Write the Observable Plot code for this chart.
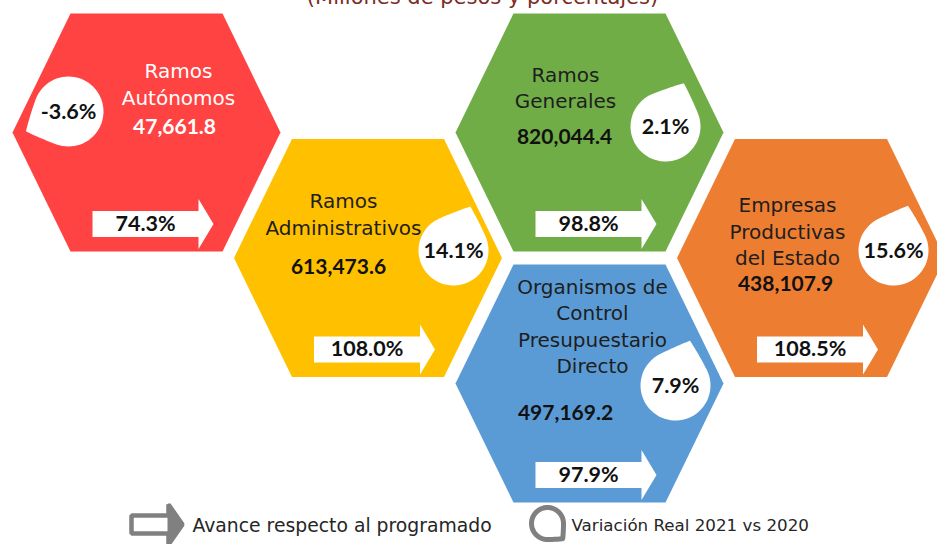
<!DOCTYPE html>
<html>
<head>
<meta charset="utf-8">
<script src="https://cdn.jsdelivr.net/npm/d3@7"></script>
<script src="https://cdn.jsdelivr.net/npm/@observablehq/plot@0.6"></script>
<style>
  html, body { margin: 0; padding: 0; background: #ffffff; overflow: hidden; }
  #chart { width: 937px; height: 544px; overflow: hidden; }
</style>
</head>
<body>
<div id="chart"></div>
<script>
// ---------------- data ----------------
const title = "(Millones de pesos y porcentajes)";
const categories = [
  "Ramos Autónomos",
  "Ramos Generales",
  "Ramos Administrativos",
  "Empresas Productivas del Estado",
  "Organismos de Control Presupuestario Directo"
];
const categoryLabels = [
  "Ramos\nAutónomos",
  "Ramos\nGenerales",
  "Ramos\nAdministrativos",
  "Empresas\nProductivas\ndel Estado",
  "Organismos de\nControl\nPresupuestario\nDirecto"
];
const amounts = [47661.8, 820044.4, 613473.6, 438107.9, 497169.2];      // millones de pesos
const realVariation = [-3.6, 2.1, 14.1, 15.6, 7.9];                    // % real 2021 vs 2020
const progressVsProgrammed = [74.3, 98.8, 108.0, 108.5, 97.9];        // % avance
const legendLabels = ["Avance respecto al programado", "Variación Real 2021 vs 2020"];

// ---------------- styles ----------------
const palette = ["#FF4343", "#70AD47", "#FFC000", "#ED7D31", "#5B9BD5"];
const nameInk = ["#ffffff", "#1e1e1e", "#1e1e1e", "#1e1e1e", "#1e1e1e"];
const valueInk = ["#ffffff", "#111111", "#111111", "#111111", "#111111"];
const legendGray = "#808080";
const titleInk = "#7b2d26";
const nameFont = "DejaVu Sans, sans-serif";
const boldFont = "Lato, 'DejaVu Sans', sans-serif";
const legendSizes = [18.8, 16.7];

// ---------------- layout (honeycomb) ----------------
const hexSlot = [[0, 0], [2, 0], [1, 1], [3, 1], [2, 2]];
const gridOrigin = [146, 132], gridStep = [221.5, 125.5];
const hexHalfW = 134, hexHalfTop = 76, hexHalfH = 119;
const nameOffset = [[32, -49.5], [-24, -46], [-24.5, -45], [-23.5, -28], [3, -58.5]];
const valueOffset = [[28, -5], [-25, 5], [-29.5, 9.5], [-25.5, 26.5], [-24, 30]];
const bubbleOffset = [[-78, -21], [76, -6], [85.5, -7.5], [82.5, -7.5], [86, 2]];
const bubbleTurn = [200, -22, -24, -27, -27];
const bubbleR = 35, bubbleAdj = 0.95;
const arrowDy = 91.5, arrowX0 = -54, arrowX1 = 52, arrowX2 = 67, arrowBody = 13, arrowHead = 25;

const centers = categories.map((c, i) => ({
  x: gridOrigin[0] + hexSlot[i][0] * gridStep[0],
  y: gridOrigin[1] + hexSlot[i][1] * gridStep[1]
}));

// hexagon polygons
const hexCorners = [[-hexHalfW, 0], [-hexHalfTop, -hexHalfH], [hexHalfTop, -hexHalfH],
                    [hexHalfW, 0], [hexHalfTop, hexHalfH], [-hexHalfTop, hexHalfH]];
const hexPts = categories.flatMap((c, i) =>
  hexCorners.map(([u, v]) => ({cat: c, x: centers[i].x + u, y: centers[i].y + v})));

// teardrop outline (Office-style teardrop, tip at -45deg before rotation)
function dropShape(id, cx, cy, r, turnDeg, a) {
  const local = [];
  for (let t = 180; t <= 270; t += 5) local.push([Math.cos(t * Math.PI / 180), Math.sin(t * Math.PI / 180)]);
  const quad = (p0, c, p2) => {
    for (let k = 1; k <= 12; k++) {
      const s = k / 12, m = 1 - s;
      local.push([m * m * p0[0] + 2 * m * s * c[0] + s * s * p2[0], m * m * p0[1] + 2 * m * s * c[1] + s * s * p2[1]]);
    }
  };
  quad([0, -1], [a / 2, -1], [a, -a]);
  quad([a, -a], [1, -a / 2], [1, 0]);
  for (let t = 5; t < 180; t += 5) local.push([Math.cos(t * Math.PI / 180), Math.sin(t * Math.PI / 180)]);
  const f = turnDeg * Math.PI / 180, cf = Math.cos(f), sf = Math.sin(f);
  return local.map(([u, v]) => ({id, x: cx + r * (u * cf - v * sf), y: cy + r * (u * sf + v * cf)}));
}
const bubbleCenters = categories.map((c, i) => ({
  cat: c, x: centers[i].x + bubbleOffset[i][0], y: centers[i].y + bubbleOffset[i][1]
}));
const dropPts = categories.flatMap((c, i) =>
  dropShape(c, bubbleCenters[i].x, bubbleCenters[i].y, bubbleR, bubbleTurn[i], bubbleAdj));

// arrows
function arrowShape(id, x0, x1, x2, y, body, head) {
  return [[x0, y - body], [x1, y - body], [x1, y - head], [x2, y], [x1, y + head], [x1, y + body], [x0, y + body]]
    .map(([x, yy]) => ({id, x, y: yy}));
}
const arrowPts = categories.flatMap((c, i) =>
  arrowShape(c, centers[i].x + arrowX0, centers[i].x + arrowX1, centers[i].x + arrowX2,
             centers[i].y + arrowDy, arrowBody, arrowHead));

// text rows
const fmtAmount = d3.format(",.1f");
const fmtPct = v => v.toFixed(1) + "%";
const rows = categories.map((c, i) => ({
  cat: c,
  label: categoryLabels[i],
  nx: centers[i].x + nameOffset[i][0], ny: centers[i].y + nameOffset[i][1],
  value: fmtAmount(amounts[i]),
  vx: centers[i].x + valueOffset[i][0], vy: centers[i].y + valueOffset[i][1],
  varText: fmtPct(realVariation[i]),
  bx: bubbleCenters[i].x, by: bubbleCenters[i].y + 1,
  progText: fmtPct(progressVsProgrammed[i]),
  ax: centers[i].x + (arrowX0 + arrowX1) / 2, ay: centers[i].y + arrowDy
}));

// legend
const legendY = 524;
const legendArrow = arrowShape("legend", 131, 168, 182, legendY, 9, 20);
const legendHead = [[168, legendY - 20], [182, legendY], [168, legendY + 20]].map(([x, y]) => ({x, y}));
const legendDrop = dropShape("legendDrop", 547, legendY - 1, 16, 90, 0.95);
const legendRows = [
  {x: 192, y: legendY + 1, text: legendLabels[0]},
  {x: 571, y: legendY + 1, text: legendLabels[1]}
];

// ---------------- plot ----------------
const marks = [];
categories.forEach((c, i) => {
  marks.push(Plot.line(hexPts.filter(d => d.cat === c),
    {x: "x", y: "y", fill: palette[i], stroke: "none", curve: "linear-closed"}));
});
marks.push(Plot.line(dropPts, {x: "x", y: "y", z: "id", fill: "white", stroke: "none", curve: "linear-closed"}));
marks.push(Plot.line(arrowPts, {x: "x", y: "y", z: "id", fill: "white", stroke: "none", curve: "linear-closed"}));
rows.forEach((r, i) => {
  marks.push(Plot.text([r], {x: "nx", y: "ny", text: "label", fill: nameInk[i], fontSize: 20,
    fontFamily: nameFont, lineHeight: 1.33, textAnchor: "middle"}));
  marks.push(Plot.text([r], {x: "vx", y: "vy", text: "value", fill: valueInk[i], fontSize: 21,
    fontWeight: "bold", fontFamily: boldFont, textAnchor: "middle"}));
});
marks.push(Plot.text(rows, {x: "bx", y: "by", text: "varText", fill: "#111", fontSize: 21.5,
  fontWeight: "bold", fontFamily: boldFont, textAnchor: "middle"}));
marks.push(Plot.text(rows, {x: "ax", y: "ay", text: "progText", fill: "#111", fontSize: 21.5,
  fontWeight: "bold", fontFamily: boldFont, textAnchor: "middle"}));
// title (cut at top edge as in the source)
marks.push(Plot.text([title], {x: () => 482, y: () => 3.5, text: d => d, fill: titleInk, fontSize: 21,
  fontFamily: nameFont, lineAnchor: "bottom", textAnchor: "middle"}));
// legend
marks.push(Plot.line(legendArrow, {x: "x", y: "y", fill: "white", stroke: legendGray, strokeWidth: 4.5,
  strokeLinejoin: "miter", curve: "linear-closed"}));
marks.push(Plot.line(legendHead, {x: "x", y: "y", fill: legendGray, stroke: legendGray, strokeWidth: 2, curve: "linear-closed"}));
marks.push(Plot.line(legendDrop, {x: "x", y: "y", fill: "white", stroke: legendGray, strokeWidth: 5, curve: "linear-closed"}));
legendRows.forEach((r, i) => {
  marks.push(Plot.text([r], {x: "x", y: "y", text: "text", fill: "#262626", fontSize: legendSizes[i],
    fontFamily: nameFont, textAnchor: "start"}));
});

const chart = Plot.plot({
  width: 937,
  height: 544,
  margin: 0,
  x: {domain: [0, 937], range: [0, 937], axis: null},
  y: {domain: [0, 544], range: [0, 544], axis: null},
  style: {background: "white", fontFamily: nameFont},
  marks
});
document.getElementById("chart").appendChild(chart);
</script>
</body>
</html>
